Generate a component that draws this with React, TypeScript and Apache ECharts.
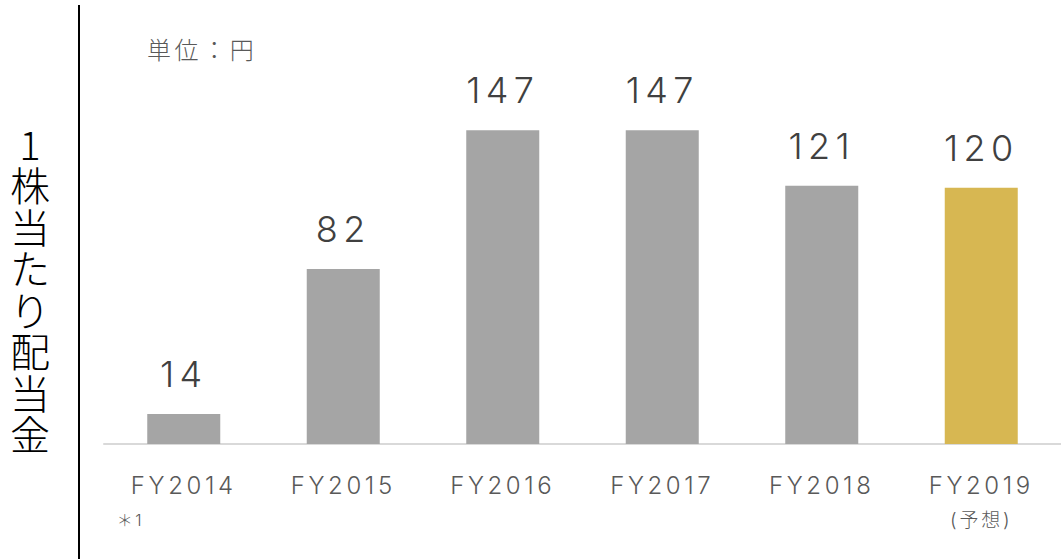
import React, { useEffect, useRef } from "react";
import * as echarts from "echarts";

const categories = ["FY2014", "FY2015", "FY2016", "FY2017", "FY2018", "FY2019"];
const notes = ["＊1", "", "", "", "", "(予想)"];
const values = [14, 82, 147, 147, 121, 120];
const barColors = ["#a5a5a5", "#a5a5a5", "#a5a5a5", "#a5a5a5", "#a5a5a5", "#d7b752"];
const yTitle = "1株当たり配当金";
const unitText = "単位：円";

const FONT = "Inter, 'Noto Sans CJK JP', sans-serif";

export default function App() {
  const ref = useRef<HTMLDivElement>(null);
  useEffect(() => {
    if (!ref.current) return;
    const chart = echarts.init(ref.current, null, { renderer: "svg" });
    chart.setOption({
      animation: false,
      backgroundColor: "#ffffff",
      grid: { left: 104, top: 17, width: 966, bottom: 115, containLabel: false },
      xAxis: {
        type: "category",
        data: categories,
        axisLine: { show: true, lineStyle: { color: "#d9d9d9", width: 2 } },
        axisTick: { show: false },
        axisLabel: {
          margin: 24,
          formatter: (v: string, i: number) => {
            const n = notes[i];
            if (!n) return `{a|${v}}`;
            if (i === 0) return `{a|${v}}\n{l|${n}}`;
            return `{a|${v}}\n{c|${n}}`;
          },
          rich: {
            a: { fontSize: 24, color: "#595959", fontFamily: FONT, fontWeight: 300, lineHeight: 34 },
            l: { fontSize: 16, color: "#595959", fontFamily: FONT, fontWeight: 300, align: "left", width: 134, lineHeight: 36 },
            c: { fontSize: 19, color: "#595959", fontFamily: FONT, fontWeight: 300, align: "center", lineHeight: 36 },
          },
        },
      },
      yAxis: {
        type: "value",
        min: 0,
        max: 200,
        show: false,
        splitLine: { show: false },
      },
      series: [
        {
          type: "bar",
          barWidth: 73,
          data: values.map((v, i) => ({ value: v, itemStyle: { color: barColors[i] } })),
          label: {
            show: true,
            position: "top",
            distance: 22,
            fontSize: 36,
            fontWeight: 300,
            fontFamily: FONT,
            color: "#404040",
          },
        },
      ],
      graphic: [
        {
          type: "line",
          shape: { x1: 79, y1: 5, x2: 79, y2: 559 },
          style: { stroke: "#000000", lineWidth: 2 },
        },
        {
          type: "text",
          x: 33,
          y: 288,
          style: {
            text: yTitle.split("").join("\n"),
            fontSize: 40,
            lineHeight: 41.5,
            fontFamily: "'Noto Sans CJK JP', sans-serif",
            fontWeight: 300,
            fill: "#000000",
            align: "center",
            verticalAlign: "middle",
          },
        },
        {
          type: "text",
          x: 147,
          y: 50,
          style: {
            text: unitText,
            fontSize: 24,
            fontFamily: FONT,
            fontWeight: 300,
            fill: "#595959",
            align: "left",
            verticalAlign: "middle",
          },
        },
      ],
    });
    // emulate the wide tracking of the reference typeface
    ref.current.querySelectorAll("text").forEach((t) => {
      (t as SVGTextElement).style.letterSpacing = "0.15em";
    });
    return () => chart.dispose();
  }, []);
  return (
    <div
      ref={ref}
      style={{ position: "absolute", left: 0, top: 0, width: 1061, height: 559 }}
    />
  );
}
